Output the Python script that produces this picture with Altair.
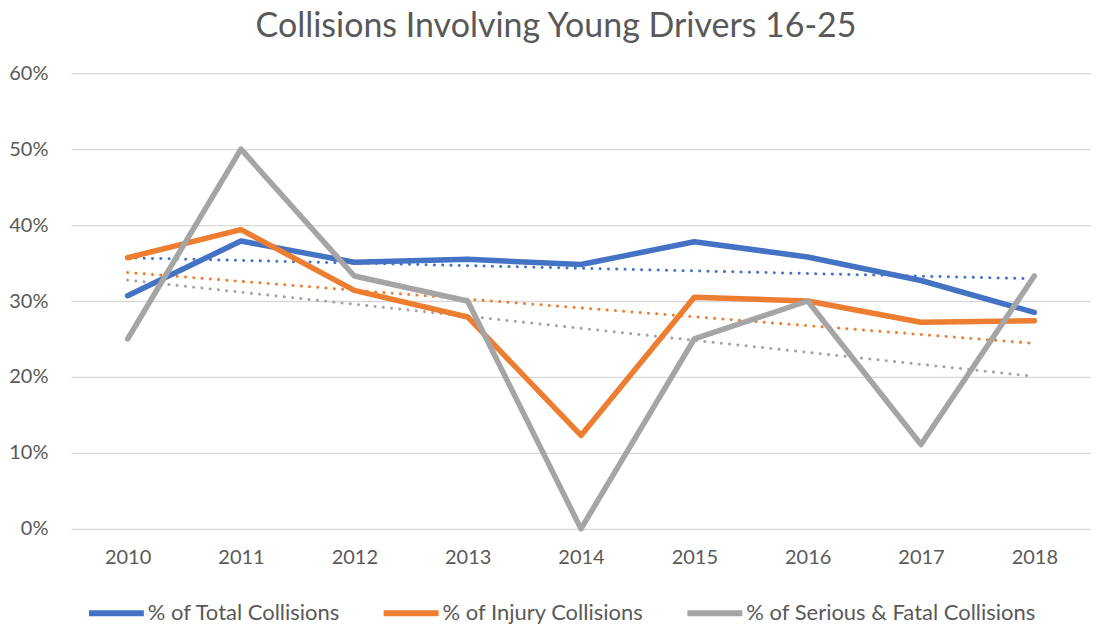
import altair as alt
import pandas as pd

years = [2010, 2011, 2012, 2013, 2014, 2015, 2016, 2017, 2018]
series_names = ["% of Total Collisions", "% of Injury Collisions", "% of Serious & Fatal Collisions"]
total = [0.307, 0.379, 0.351, 0.355, 0.348, 0.378, 0.358, 0.327, 0.285]
injury = [0.357, 0.394, 0.314, 0.279, 0.123, 0.305, 0.300, 0.272, 0.274]
serious = [0.250, 0.500, 0.333, 0.300, 0.000, 0.250, 0.300, 0.111, 0.333]
colors = ["#4472C4", "#ED7D31", "#A5A5A5"]

rows = []
for name, vals in zip(series_names, [total, injury, serious]):
    for y, v in zip(years, vals):
        rows.append({"year": y, "value": v, "series": name})
df = pd.DataFrame(rows)

FONT = "Lato"
TXT = "#595959"

color = alt.Color(
    "series:N",
    scale=alt.Scale(domain=series_names, range=colors),
    sort=series_names,
    legend=alt.Legend(
        title=None,
        orient="none",
        direction="horizontal",
        legendX=15,
        legendY=510,
        symbolType="stroke",
        symbolSize=3025,
        symbolStrokeWidth=6,
        labelFont=FONT,
        labelFontSize=22,
        labelColor=TXT,
        labelOffset=1,
        labelLimit=0,
        columnPadding=31,
        gridAlign="none",
    ),
)

x = alt.X(
    "year:Q",
    scale=alt.Scale(domain=[2009.5, 2018.5], nice=False, zero=False),
    axis=alt.Axis(
        title=None,
        values=years,
        format="d",
        grid=False,
        domain=False,
        ticks=False,
        labelFont=FONT,
        labelFontSize=20,
        labelColor=TXT,
        labelPadding=19,
    ),
)
y = alt.Y(
    "value:Q",
    scale=alt.Scale(domain=[0, 0.6], nice=False),
    axis=alt.Axis(
        title=None,
        values=[0, 0.1, 0.2, 0.3, 0.4, 0.5, 0.6],
        format=".0%",
        grid=True,
        gridColor="#D9D9D9",
        gridWidth=1.3,
        domain=False,
        ticks=False,
        labelFont=FONT,
        labelFontSize=20,
        labelColor=TXT,
        labelPadding=23,
    ),
)

trend = (
    alt.Chart(df)
    .transform_regression("year", "value", groupby=["series"], extent=[2010, 2018])
    .mark_line(strokeWidth=3, strokeDash=[0.1, 8.2], strokeCap="round")
    .encode(x=x, y=y, color=color)
)

lines = (
    alt.Chart(df)
    .mark_line(strokeWidth=5.5, strokeCap="round", strokeJoin="round")
    .encode(x=x, y=y, color=color, order="year:Q")
)

chart = (
    alt.layer(trend, lines)
    .properties(
        width=1021,
        height=456,
        padding={"left": 0, "top": 2, "right": 0, "bottom": 0},
        title=alt.TitleParams(
            "Collisions Involving Young Drivers 16-25",
            font=FONT,
            fontSize=34,
            fontWeight="normal",
            color=TXT,
            anchor="middle",
            dx=-25,
            offset=19,
        ),
    )
    .configure_view(stroke=None)
)

chart.save("out.html", embed_options={"renderer": "svg", "actions": False})
